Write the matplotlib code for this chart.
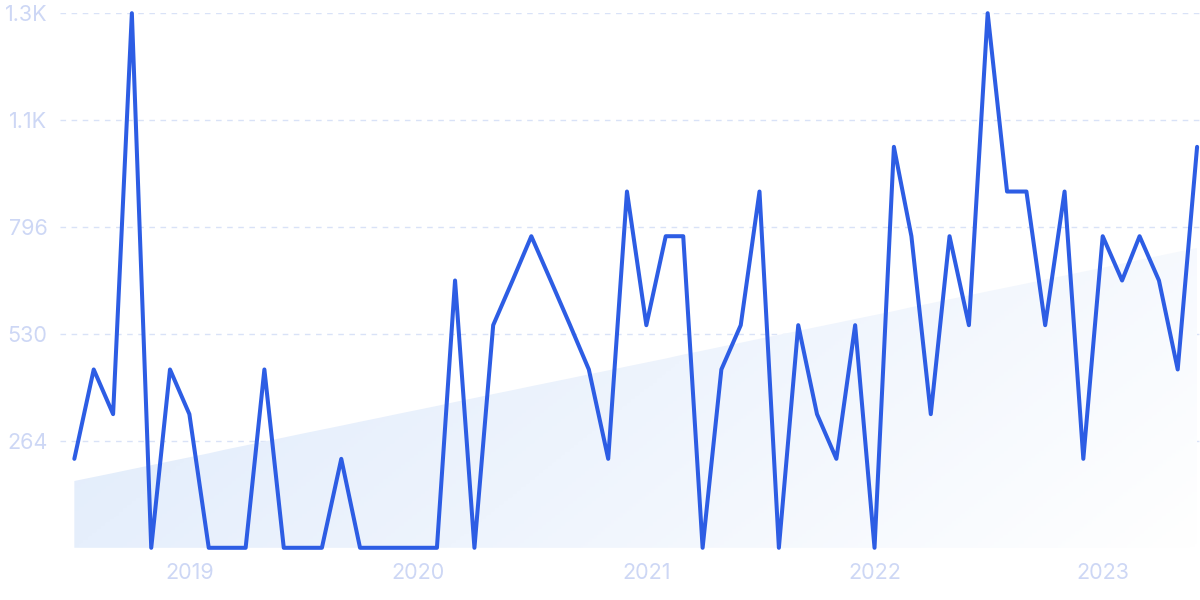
import matplotlib
matplotlib.use("Agg")
import matplotlib.pyplot as plt
import matplotlib.dates as mdates
from matplotlib.colors import LinearSegmentedColormap
import numpy as np
import pandas as pd

# monthly values, Jul 2018 .. Jun 2023
months = pd.date_range("2018-07-01", periods=60, freq="MS")
values = [221, 443, 332, 1328, 0, 443, 332, 0, 0, 0,
          443, 0, 0, 0, 221, 0, 0, 0, 0, 0,
          664, 0, 553, 664, 774, 664, 553, 443, 221, 885,
          553, 774, 774, 0, 443, 553, 885, 0, 553, 332,
          221, 553, 0, 996, 774, 332, 774, 553, 1328, 885,
          885, 553, 885, 221, 774, 664, 774, 664, 443, 996]
ytick_vals = [265.6, 531.2, 796.8, 1062.4, 1328]
ytick_labels = ["264", "530", "796", "1.1K", "1.3K"]
year_ticks = ["2019", "2020", "2021", "2022", "2023"]

plt.rcParams['font.family'] = ['Inter', 'DejaVu Sans']

fig = plt.figure(figsize=(12, 6), dpi=100)
ax = fig.add_axes([0.05, 0.087, 0.95, 0.891])

x = mdates.date2num(months)
y = np.array(values, dtype=float)

# linear trend, shaded area with a fading gradient
idx = np.arange(len(y))
k, b = np.polyfit(idx, y, 1)
trend = k * idx + b
poly = ax.fill_between(x, 0, trend, color="none", lw=0)
grad_cmap = LinearSegmentedColormap.from_list("g", ["#deeafb", "#eef4fd", "#ffffff"])
gx, gy = np.meshgrid(np.linspace(0, 1, 256), np.linspace(0, 1, 256))
grad = gx * 0.75 + gy * 0.25
img = ax.imshow(grad, cmap=grad_cmap, aspect="auto", origin="upper",
                extent=[x[0], x[-1], 0, trend.max()], zorder=1)
img.set_clip_path(poly.get_paths()[0], transform=ax.transData)

ax.plot(x, y, color="#2d5de4", lw=2.9, zorder=3, clip_on=False,
        solid_joinstyle="round", solid_capstyle="round")

step = x[1] - x[0]
ax.set_xlim(x[0] - 0.74 * step, x[-1] + 0.15 * step)
ax.set_ylim(0, 1328)

ax.set_yticks(ytick_vals)
ax.set_yticklabels(ytick_labels)
ax.set_xticks([mdates.date2num(pd.Timestamp(f"{yr}-01-01")) for yr in year_ticks])
ax.set_xticklabels(year_ticks)

ax.grid(axis="y", color="#d9e2f7", ls=(0, (4, 4)), lw=1)
ax.set_axisbelow(True)
for s in ax.spines.values():
    s.set_visible(False)
ax.tick_params(length=0, colors="#cdd7f5", labelsize=15.5)
ax.tick_params(axis="y", pad=9)
ax.tick_params(axis="x", pad=11)

fig.savefig("out.png", dpi=100)
